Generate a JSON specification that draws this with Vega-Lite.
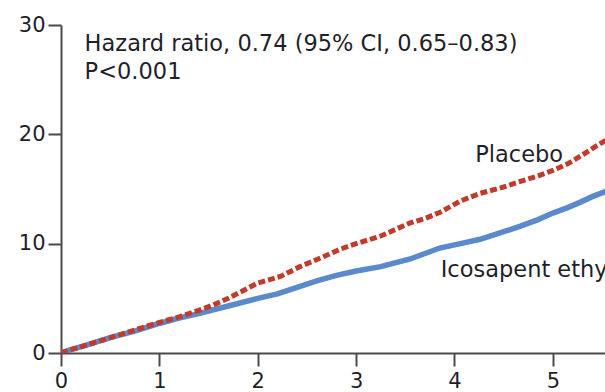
{
  "$schema": "https://vega.github.io/schema/vega-lite/v6.json",
  "autosize": {"type": "none"},
  "width": 544,
  "height": 328,
  "padding": {"left": 61, "top": 25, "right": 0, "bottom": 39},
  "background": "white",
  "config": {
    "view": {"stroke": null},
    "font": "DejaVu Sans",
    "axis": {
      "grid": false,
      "domainColor": "#4a4a4a",
      "domainWidth": 2,
      "tickColor": "#4a4a4a",
      "tickWidth": 2,
      "tickSize": 13,
      "labelFont": "DejaVu Sans",
      "labelFontSize": 21,
      "labelColor": "#1f1f2a",
      "labelFlush": false,
      "title": null
    }
  },
  "datasets": {
    "curves": [
      {"series": "Icosapent ethyl", "t": 0.0, "pct": 0.0},
      {"series": "Icosapent ethyl", "t": 0.1, "pct": 0.3},
      {"series": "Icosapent ethyl", "t": 0.25, "pct": 0.7},
      {"series": "Icosapent ethyl", "t": 0.5, "pct": 1.4},
      {"series": "Icosapent ethyl", "t": 0.75, "pct": 2.0},
      {"series": "Icosapent ethyl", "t": 1.0, "pct": 2.7},
      {"series": "Icosapent ethyl", "t": 1.2, "pct": 3.2},
      {"series": "Icosapent ethyl", "t": 1.4, "pct": 3.6},
      {"series": "Icosapent ethyl", "t": 1.7, "pct": 4.3},
      {"series": "Icosapent ethyl", "t": 2.0, "pct": 5.0},
      {"series": "Icosapent ethyl", "t": 2.2, "pct": 5.4},
      {"series": "Icosapent ethyl", "t": 2.4, "pct": 6.0},
      {"series": "Icosapent ethyl", "t": 2.6, "pct": 6.6},
      {"series": "Icosapent ethyl", "t": 2.8, "pct": 7.1},
      {"series": "Icosapent ethyl", "t": 3.0, "pct": 7.5},
      {"series": "Icosapent ethyl", "t": 3.25, "pct": 7.9},
      {"series": "Icosapent ethyl", "t": 3.55, "pct": 8.6},
      {"series": "Icosapent ethyl", "t": 3.7, "pct": 9.1},
      {"series": "Icosapent ethyl", "t": 3.85, "pct": 9.6},
      {"series": "Icosapent ethyl", "t": 4.06, "pct": 10.0},
      {"series": "Icosapent ethyl", "t": 4.26, "pct": 10.4},
      {"series": "Icosapent ethyl", "t": 4.47, "pct": 11.0},
      {"series": "Icosapent ethyl", "t": 4.67, "pct": 11.6},
      {"series": "Icosapent ethyl", "t": 4.85, "pct": 12.2},
      {"series": "Icosapent ethyl", "t": 5.0, "pct": 12.8},
      {"series": "Icosapent ethyl", "t": 5.15, "pct": 13.3},
      {"series": "Icosapent ethyl", "t": 5.28, "pct": 13.8},
      {"series": "Icosapent ethyl", "t": 5.4, "pct": 14.3},
      {"series": "Icosapent ethyl", "t": 5.6, "pct": 15.0},
      {"series": "Placebo", "t": 0.0, "pct": 0.0},
      {"series": "Placebo", "t": 0.1, "pct": 0.3},
      {"series": "Placebo", "t": 0.25, "pct": 0.7},
      {"series": "Placebo", "t": 0.5, "pct": 1.4},
      {"series": "Placebo", "t": 0.75, "pct": 2.1},
      {"series": "Placebo", "t": 1.0, "pct": 2.8},
      {"series": "Placebo", "t": 1.2, "pct": 3.3},
      {"series": "Placebo", "t": 1.4, "pct": 3.9},
      {"series": "Placebo", "t": 1.55, "pct": 4.4},
      {"series": "Placebo", "t": 1.7, "pct": 5.0},
      {"series": "Placebo", "t": 1.85, "pct": 5.7},
      {"series": "Placebo", "t": 2.0, "pct": 6.4},
      {"series": "Placebo", "t": 2.23, "pct": 7.0},
      {"series": "Placebo", "t": 2.43, "pct": 7.9},
      {"series": "Placebo", "t": 2.64, "pct": 8.7},
      {"series": "Placebo", "t": 2.84, "pct": 9.5},
      {"series": "Placebo", "t": 3.0, "pct": 10.0},
      {"series": "Placebo", "t": 3.25, "pct": 10.7},
      {"series": "Placebo", "t": 3.4, "pct": 11.3},
      {"series": "Placebo", "t": 3.55, "pct": 11.9},
      {"series": "Placebo", "t": 3.7, "pct": 12.3},
      {"series": "Placebo", "t": 3.86, "pct": 12.9},
      {"series": "Placebo", "t": 4.06, "pct": 13.9},
      {"series": "Placebo", "t": 4.26, "pct": 14.6},
      {"series": "Placebo", "t": 4.47, "pct": 15.1},
      {"series": "Placebo", "t": 4.67, "pct": 15.7},
      {"series": "Placebo", "t": 4.85, "pct": 16.2},
      {"series": "Placebo", "t": 5.0, "pct": 16.7},
      {"series": "Placebo", "t": 5.15, "pct": 17.3},
      {"series": "Placebo", "t": 5.28, "pct": 18.0},
      {"series": "Placebo", "t": 5.4, "pct": 18.7},
      {"series": "Placebo", "t": 5.6, "pct": 19.8}
    ],
    "notes": [
      {"label": "Hazard ratio, 0.74 (95% CI, 0.65–0.83)", "t": 0.24, "pct": 27.65},
      {"label": "P<0.001", "t": 0.24, "pct": 25.1},
      {"label": "Placebo", "t": 4.21, "pct": 17.5},
      {"label": "Icosapent ethyl", "t": 3.86, "pct": 6.95}
    ]
  },
  "encoding": {
    "x": {
      "field": "t",
      "type": "quantitative",
      "scale": {"domain": [0, 5.53], "nice": false, "zero": false},
      "axis": {"values": [0, 1, 2, 3, 4, 5], "labelPadding": 4, "format": "d"}
    },
    "y": {
      "field": "pct",
      "type": "quantitative",
      "scale": {"domain": [0, 30], "nice": false},
      "axis": {"values": [0, 10, 20, 30], "labelPadding": 3, "format": "d"}
    }
  },
  "layer": [
    {
      "data": {"name": "curves"},
      "transform": [{"filter": "datum.series === 'Icosapent ethyl'"}],
      "mark": {"type": "line", "color": "#5a8acb", "strokeWidth": 5.5, "clip": true}
    },
    {
      "data": {"name": "curves"},
      "transform": [{"filter": "datum.series === 'Placebo'"}],
      "mark": {"type": "line", "color": "#c23a2b", "strokeWidth": 5, "strokeDash": [7, 3], "clip": true}
    },
    {
      "data": {"name": "notes"},
      "mark": {"type": "text", "align": "left", "baseline": "alphabetic", "fontSize": 22.5, "color": "#1f1f2a"},
      "encoding": {"text": {"field": "label"}}
    }
  ]
}
